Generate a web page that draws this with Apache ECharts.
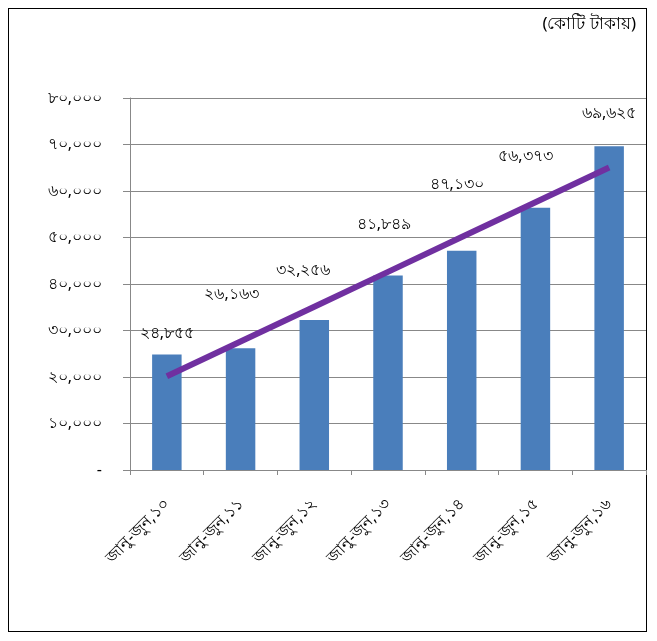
<!DOCTYPE html>
<html>
<head>
<meta charset="utf-8">
<script src="https://cdn.jsdelivr.net/npm/echarts@6/dist/echarts.min.js"></script>
<style>
html,body{margin:0;padding:0;background:#fff;}
#frame{position:absolute;left:8px;top:8px;width:639px;height:624px;border:1px solid #000;box-sizing:border-box;}
#chart{position:absolute;left:0;top:0;width:657px;height:641px;}
</style>
</head>
<body>
<div id="frame"></div>
<div id="chart"></div>
<script>
const categories = ['জানু-জুন,১০','জানু-জুন,১১','জানু-জুন,১২','জানু-জুন,১৩','জানু-জুন,১৪','জানু-জুন,১৫','জানু-জুন,১৬'];
const values = [24855, 26163, 32256, 41849, 47130, 56373, 69625];
const valueLabels = ['২৪,৮৫৫','২৬,১৬৩','৩২,২৫৬','৪১,৮৪৯','৪৭,১৩০','৫৬,৩৭৩','৬৯,৬২৫'];
const yTickLabels = ['-','১০,০০০','২০,০০০','৩০,০০০','৪০,০০০','৫০,০০০','৬০,০০০','৭০,০০০','৮০,০০০'];
const unitText = '(কোটি টাকায়)';

// style: label offsets (px) as in the reference
const labelOffsets = [[0,-13],[-9,-46],[-11,-42],[-4,-43],[-5,-58],[-10,-43],[0,-25]];

// linear trendline (least squares) from the data
const n = values.length;
const mx = (n - 1) / 2;
const my = values.reduce((a, b) => a + b, 0) / n;
let sxy = 0, sxx = 0;
values.forEach((v, i) => { sxy += (i - mx) * (v - my); sxx += (i - mx) * (i - mx); });
const slope = sxy / sxx;
const trend = values.map((v, i) => my + slope * (i - mx));

const font = "'Noto Sans', 'DejaVu Sans', sans-serif";
const chart = echarts.init(document.getElementById('chart'), null, {renderer: 'canvas'});
chart.setOption({
  animation: false,
  backgroundColor: 'transparent',
  title: {
    text: unitText, right: 16, top: 11,
    textStyle: {fontSize: 17, fontWeight: 'normal', color: '#000', fontFamily: font}
  },
  grid: {left: 130, right: 11, top: 98, bottom: 171, containLabel: false},
  xAxis: {
    type: 'category', data: categories, boundaryGap: true,
    axisLine: {lineStyle: {color: '#888'}},
    axisTick: {show: true, length: 5, lineStyle: {color: '#888'}},
    axisLabel: {rotate: 45, color: '#000', fontSize: 16, fontFamily: font, margin: 32, interval: 0}
  },
  yAxis: {
    type: 'value', min: 0, max: 80000, interval: 10000,
    axisLine: {show: true, lineStyle: {color: '#888'}},
    axisTick: {show: true, length: 7, lineStyle: {color: '#888'}},
    splitLine: {lineStyle: {color: '#888', width: 1}},
    axisLabel: {
      color: '#000', fontSize: 16, fontFamily: font, margin: 28,
      formatter: v => yTickLabels[Math.round(v / 10000)]
    }
  },
  series: [
    {
      type: 'bar', data: values.map((v, i) => ({
        value: v,
        label: {show: true, position: 'top', distance: 0, offset: labelOffsets[i],
          formatter: () => valueLabels[i], color: '#000', fontSize: 16, fontFamily: font}
      })),
      barWidth: '40%', itemStyle: {color: '#4A7EBB'}, z: 2
    },
    {
      type: 'line', data: trend, showSymbol: false, symbol: 'none',
      lineStyle: {color: '#7030A0', width: 6}, z: 3, silent: true
    }
  ]
});
</script>
</body>
</html>
